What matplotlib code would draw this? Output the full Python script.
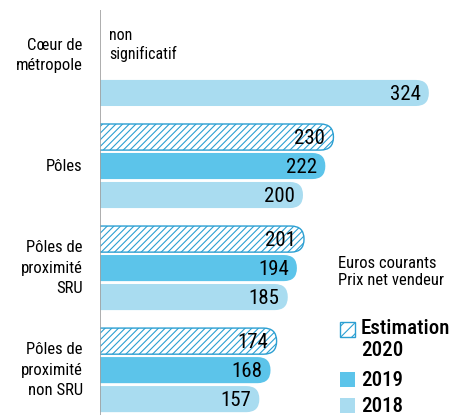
import matplotlib
matplotlib.use('Agg')
import matplotlib.pyplot as plt
from matplotlib.patches import FancyBboxPatch, Rectangle
import matplotlib.font_manager as fm

names = set(f.name for f in fm.fontManager.ttflist)
FONT = 'Roboto'
for cand in ['Roboto Condensed', 'Barlow Semi Condensed', 'Liberation Sans Narrow']:
    if cand in names:
        FONT = cand
        break
plt.rcParams['font.family'] = [FONT, 'DejaVu Sans']
plt.rcParams['hatch.linewidth'] = 0.8

# data
categories = ['Cœur de\nmétropole', 'Pôles', 'Pôles de\nproximité\nSRU', 'Pôles de\nproximité\nnon SRU']
series = ['Estimation\n2020', '2019', '2018']
val_2020 = [None, 230, 201, 174]
val_2019 = [None, 222, 194, 168]
val_2018 = [324, 200, 185, 157]
note_missing = 'non\nsignificatif'
unit_note = 'Euros courants\nPrix net vendeur'

col_2020 = '#2b9fd2'
col_2019 = '#5cc4ea'
col_2018 = '#a9dcf0'

W, H = 452, 415
fig = plt.figure(figsize=(W / 100, H / 100), dpi=100)
ax = fig.add_axes([100 / W, 0, 1 - 100 / W, 1 - 10 / H])

group_pitch = 3.52
bar_h = 0.9
xmax = (W - 100) / 1.015
ax.set_xlim(0, xmax)
ax.set_ylim(13.97 - 0.862, -0.862)

# x units per px vs slot units per px, so the ends are round on screen
aspect = (1 / 29) / (1 / 1.015)
rad = 12.8

def bar(y, v, **kw):
    # start left of the axis so only the right end shows rounded
    p = FancyBboxPatch((-20, y - bar_h / 2), v + 20, bar_h,
                       boxstyle='round,pad=0,rounding_size=%g' % rad,
                       mutation_aspect=aspect, **kw)
    ax.add_patch(p)

for i, cat in enumerate(categories):
    yc = i * group_pitch
    for j, vals in enumerate([val_2020, val_2019, val_2018]):
        v = vals[i]
        y = yc + j
        if v is None:
            continue
        if j == 0:
            bar(y, v, facecolor='white', edgecolor=col_2020, hatch='/////', linewidth=1.0)
        else:
            bar(y, v, facecolor=[col_2019, col_2018][j - 1], edgecolor='none')
        ax.text(v - 8, y + 0.04, str(v), ha='right', va='center', fontsize=15, color='black')
    ylab = yc + 1
    if val_2020[i] is None and val_2019[i] is None:
        ax.text(9, yc + 0.35, note_missing, ha='left', va='center', fontsize=11.5, linespacing=1.2)
        ylab = yc + 0.7
    ax.text(-17, ylab, cat, ha='right', va='center', fontsize=12,
            linespacing=1.45, clip_on=False)

ax.axvline(0, color='#a0a0a0', lw=1.2)
for s in ax.spines.values():
    s.set_visible(False)
ax.set_xticks([])
ax.set_yticks([])

# legend
fig.text(338 / W, 1 - 272 / H, unit_note, ha='left', va='center', fontsize=12, linespacing=1.2)
sw = 15
legend_rows = [(322, col_2020, True), (372, col_2019, False), (398, col_2018, False)]
for (top, c, hatched), lab in zip(legend_rows, series):
    if hatched:
        r = Rectangle((340 / W, 1 - (top + sw) / H), sw / W, sw / H, transform=fig.transFigure,
                      facecolor='white', edgecolor=c, hatch='///', lw=1.0)
        fig.text(361 / W, 1 - (top - 3) / H, lab, ha='left', va='top', fontsize=15,
                 fontweight='medium', linespacing=1.2)
    else:
        r = Rectangle((340 / W, 1 - (top + sw) / H), sw / W, sw / H, transform=fig.transFigure,
                      facecolor=c, edgecolor='none')
        fig.text(361 / W, 1 - (top + 8) / H, lab, ha='left', va='center', fontsize=15,
                 fontweight='medium')
    fig.patches.append(r)

fig.savefig('out.png', dpi=100)
